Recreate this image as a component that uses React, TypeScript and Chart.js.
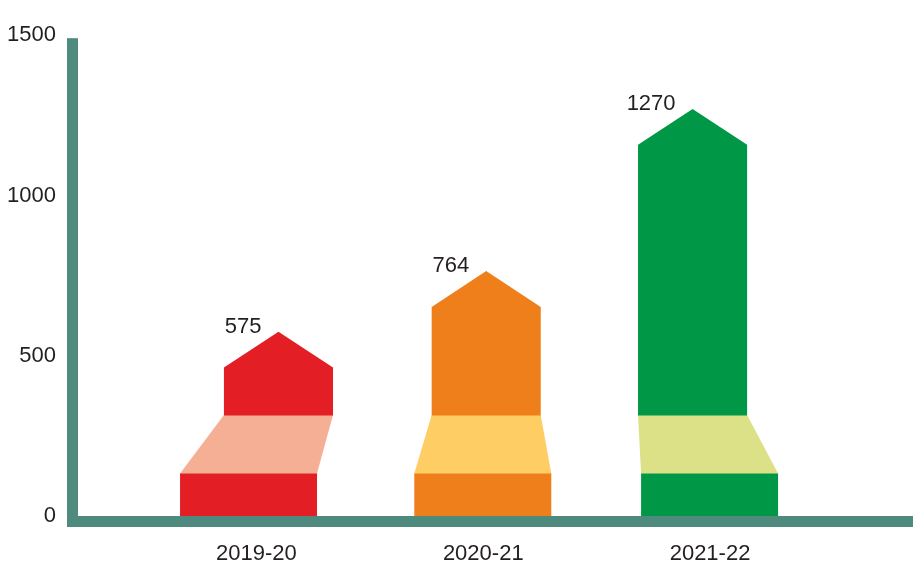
import React, { useEffect, useRef } from "react";
import { Chart, registerables } from "chart.js";

Chart.register(...registerables);

// ---- data ----
const categories = ["2019-20", "2020-21", "2021-22"];
const values = [575, 764, 1270];
const yTickValues = [0, 500, 1000, 1500];

// ---- style ----
const darkColors = ["#e31e24", "#ef7f1a", "#009846"];
const lightColors = ["#f5af95", "#fecd64", "#dce086"];
const axisColor = "#4e8a7d";
const textColor = "#231f20";
const labelFont = "'Liberation Sans', Arial, sans-serif";

// arrow shape (x in category units, y in value units)
const shape = {
  baseWidth: 0.604,
  bodyWidth: 0.481,
  baseShift: [-0.035, -0.002, -0.002],
  bodyShift: [0.097, 0.013, -0.077],
  baseTop: 134,
  bandTop: 315,
  head: 112,
};

const axisPlugin = {
  id: "thickAxes",
  beforeDatasetsDraw(chart: any) {
    const { ctx, chartArea } = chart;
    const t = 11;
    ctx.save();
    ctx.fillStyle = axisColor;
    ctx.fillRect(chartArea.left - t, chartArea.top + 3, t, chartArea.bottom + t - (chartArea.top + 3));
    ctx.fillRect(chartArea.left - t, chartArea.bottom, chartArea.right - chartArea.left + t, t);
    ctx.restore();
  },
};

const arrowPlugin = {
  id: "arrows",
  afterDatasetsDraw(chart: any) {
    const { ctx } = chart;
    const xs = chart.scales.x;
    const ys = chart.scales.y;
    const pts = chart.data.datasets[0].data as { x: number; y: number }[];
    ctx.save();
    pts.forEach((p, i) => {
      const bl = xs.getPixelForValue(p.x + shape.baseShift[i] - shape.baseWidth / 2);
      const br = xs.getPixelForValue(p.x + shape.baseShift[i] + shape.baseWidth / 2);
      const ul = xs.getPixelForValue(p.x + shape.bodyShift[i] - shape.bodyWidth / 2);
      const ur = xs.getPixelForValue(p.x + shape.bodyShift[i] + shape.bodyWidth / 2);
      const uc = (ul + ur) / 2;
      const y0 = ys.getPixelForValue(0);
      const yBase = ys.getPixelForValue(shape.baseTop);
      const yBand = ys.getPixelForValue(shape.bandTop);
      const yShoulder = ys.getPixelForValue(p.y - shape.head);
      const yTip = ys.getPixelForValue(p.y);

      // base block
      ctx.fillStyle = darkColors[i];
      ctx.fillRect(bl, yBase, br - bl, y0 - yBase);
      // light band (trapezoid)
      ctx.fillStyle = lightColors[i];
      ctx.beginPath();
      ctx.moveTo(bl, yBase + 0.5);
      ctx.lineTo(ul, yBand);
      ctx.lineTo(ur, yBand);
      ctx.lineTo(br, yBase + 0.5);
      ctx.closePath();
      ctx.fill();
      // body + head
      ctx.fillStyle = darkColors[i];
      ctx.beginPath();
      ctx.moveTo(ul, yBand + 0.5);
      ctx.lineTo(ul, yShoulder);
      ctx.lineTo(uc, yTip);
      ctx.lineTo(ur, yShoulder);
      ctx.lineTo(ur, yBand + 0.5);
      ctx.closePath();
      ctx.fill();
      // value label
      ctx.fillStyle = textColor;
      ctx.font = `22px ${labelFont}`;
      ctx.textAlign = "right";
      ctx.textBaseline = "middle";
      ctx.fillText(String(p.y), uc - 17, yTip - 5);
    });
    ctx.restore();
  },
};

export default function App() {
  const ref = useRef<HTMLCanvasElement>(null);

  useEffect(() => {
    if (!ref.current) return;
    const chart = new Chart(ref.current, {
      type: "scatter",
      data: {
        datasets: [
          {
            data: values.map((v, i) => ({ x: i, y: v })),
            pointRadius: 0,
            pointHoverRadius: 0,
            showLine: false,
          },
        ],
      },
      options: {
        animation: false,
        responsive: false,
        events: [],
        layout: { padding: { top: 35, right: 0, bottom: 0, left: 0 } },
        plugins: { legend: { display: false }, tooltip: { enabled: false } },
        scales: {
          x: {
            type: "linear",
            bounds: "data",
            min: -0.787,
            max: 2.895,
            grid: { display: false, drawTicks: false },
            border: { display: false },
            afterBuildTicks: (s: any) => {
              s.ticks = categories.map((_, i) => ({ value: i }));
            },
            afterFit: (s: any) => {
              s.height = 52;
            },
            ticks: {
              padding: 25,
              color: textColor,
              font: { family: labelFont, size: 22 },
              maxRotation: 0,
              autoSkip: false,
              callback: (v: any) => categories[v] ?? "",
            },
          },
          y: {
            type: "linear",
            bounds: "data",
            min: 0,
            max: 1500,
            grid: { display: false, drawTicks: false },
            border: { display: false },
            afterBuildTicks: (s: any) => {
              s.ticks = yTickValues.map((v) => ({ value: v }));
            },
            afterFit: (s: any) => {
              s.width = 78;
            },
            ticks: {
              padding: 22,
              color: textColor,
              font: { family: labelFont, size: 22 },
              autoSkip: false,
              callback: (v: any) => String(v),
            },
          },
        },
      },
      plugins: [axisPlugin, arrowPlugin],
    });
    return () => chart.destroy();
  }, []);

  return (
    <div style={{ position: "fixed", left: 0, top: 0, width: 913, height: 568, background: "#fff" }}>
      <canvas ref={ref} width={913} height={568} style={{ display: "block" }} />
    </div>
  );
}
